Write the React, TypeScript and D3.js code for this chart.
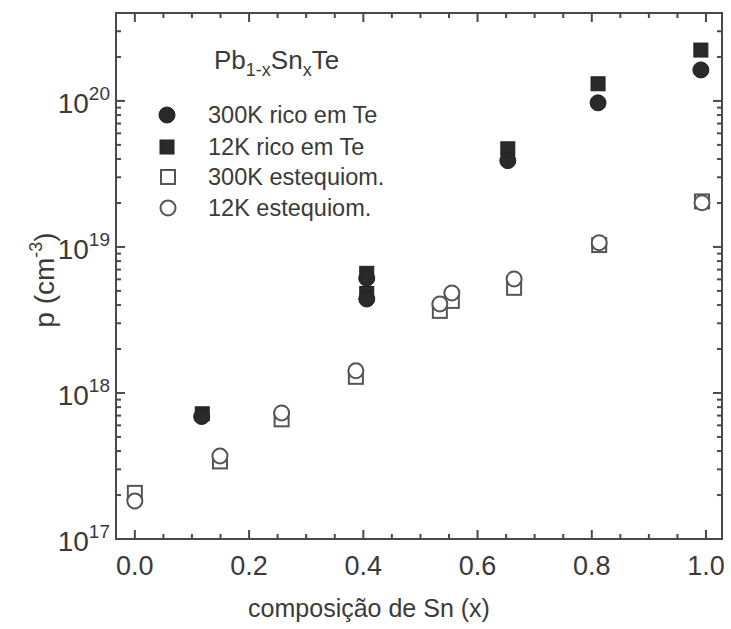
import React from "react";
import * as d3 from "d3";

const richX300 = [0.117, 0.406, 0.406, 0.653, 0.811, 0.991];
const richY300 = [6.9e17, 6.1e18, 4.4e18, 3.9e19, 9.7e19, 1.63e20];
const richX12 = [0.118, 0.406, 0.406, 0.653, 0.811, 0.991];
const richY12 = [7.2e17, 6.6e18, 4.8e18, 4.7e19, 1.31e20, 2.23e20];
const stoX300 = [0.0, 0.149, 0.257, 0.387, 0.534, 0.555, 0.664, 0.813, 0.993];
const stoY300 = [2.07e17, 3.4e17, 6.6e17, 1.29e18, 3.65e18, 4.27e18, 5.25e18, 1.03e19, 2.05e19];
const stoX12 = [0.0, 0.149, 0.257, 0.387, 0.534, 0.555, 0.664, 0.813, 0.993];
const stoY12 = [1.82e17, 3.7e17, 7.3e17, 1.42e18, 4.07e18, 4.84e18, 6.04e18, 1.07e19, 2.01e19];

const xTickLabels = ["0.0", "0.2", "0.4", "0.6", "0.8", "1.0"];
const yDecades = [17, 18, 19, 20];
const legendLabels = ["300K rico em Te", "12K rico em Te", "300K estequiom.", "12K estequiom."];

const W = 731, H = 629;
const L = 116, R = 722, T = 13, B = 539;
const AX = "#4a4a4a";
const TXT = "#3a3a3a";
const FONT = "'Liberation Sans', Arial, sans-serif";

export default function App() {
  const x = d3.scaleLinear().domain([-0.033, 1.028]).range([L, R]);
  const y = d3.scaleLog().domain([1e17, 4e20]).range([B, T]);

  const xMajor = d3.range(0, 1.0001, 0.2);
  const xMinor = d3.range(0, 1.0001, 0.05).filter((v) => Math.abs(v / 0.2 - Math.round(v / 0.2)) > 1e-6);
  const yMajor = yDecades.map((e) => Math.pow(10, e));
  const yMinor: number[] = [];
  for (let e = 17; e <= 20; e++) {
    for (let m = 2; m <= 9; m++) {
      const v = m * Math.pow(10, e);
      if (v <= 4e20) yMinor.push(v);
    }
  }
  const maj = 9, min = 5;
  const sq = 14, cr = 7.5;

  const rich300 = richX300.map((v, i) => [v, richY300[i]]);
  const rich12 = richX12.map((v, i) => [v, richY12[i]]);
  const sto300 = stoX300.map((v, i) => [v, stoY300[i]]);
  const sto12 = stoX12.map((v, i) => [v, stoY12[i]]);

  const legY = [115, 147, 177, 208];

  return (
    <svg width={W} height={H} style={{ position: "absolute", left: 0, top: 0, background: "#fff" }} fontFamily={FONT}>
      <rect x={0} y={0} width={W} height={H} fill="#fff" />
      {/* ticks */}
      <g stroke={AX} strokeWidth={2}>
        {xMajor.map((v, i) => (
          <g key={"xM" + i}>
            <line x1={x(v)} x2={x(v)} y1={B} y2={B - maj} />
            <line x1={x(v)} x2={x(v)} y1={T} y2={T + maj} />
          </g>
        ))}
        {xMinor.map((v, i) => (
          <g key={"xm" + i}>
            <line x1={x(v)} x2={x(v)} y1={B} y2={B - min} />
            <line x1={x(v)} x2={x(v)} y1={T} y2={T + min} />
          </g>
        ))}
        {yMajor.map((v, i) => (
          <g key={"yM" + i}>
            <line x1={L} x2={L + maj} y1={y(v)} y2={y(v)} />
            <line x1={R} x2={R - maj} y1={y(v)} y2={y(v)} />
          </g>
        ))}
        {yMinor.map((v, i) => (
          <g key={"ym" + i}>
            <line x1={L} x2={L + min} y1={y(v)} y2={y(v)} />
            <line x1={R} x2={R - min} y1={y(v)} y2={y(v)} />
          </g>
        ))}
      </g>
      <rect x={L} y={T} width={R - L} height={B - T} fill="none" stroke={AX} strokeWidth={2} />

      {/* x tick labels */}
      {xMajor.map((v, i) => (
        <text key={"xl" + i} x={x(v)} y={B + 36} textAnchor="middle" fontSize={27} fill={TXT}>
          {xTickLabels[i]}
        </text>
      ))}
      {/* y tick labels */}
      {yDecades.map((e, i) => (
        <text key={"yl" + i} x={L - 6} y={y(yMajor[i]) + 12} textAnchor="end" fontSize={28} fill={TXT}>
          10<tspan fontSize={19} dy={-13}>{e}</tspan>
        </text>
      ))}

      {/* axis titles */}
      <text x={(L + R) / 2 - 50} y={617} textAnchor="middle" fontSize={25} fill={TXT}>
        composição de Sn (x)
      </text>
      <text transform={`translate(54,${(T + B) / 2 + 4}) rotate(-90)`} textAnchor="middle" fontSize={28} fill={TXT}>
        p (cm<tspan fontSize={18} dy={-12}>-3</tspan><tspan dy={12}>)</tspan>
      </text>

      {/* data: open squares then open circles */}
      <g>
        {sto300.map((d, i) => (
          <rect key={"s3" + i} x={x(d[0]) - sq / 2} y={y(d[1]) - sq / 2} width={sq} height={sq} fill="#fff" stroke="#555" strokeWidth={2} />
        ))}
        {sto12.map((d, i) => (
          <circle key={"s1" + i} cx={x(d[0])} cy={y(d[1])} r={cr} fill="#fff" stroke="#555" strokeWidth={2} />
        ))}
        {rich12.map((d, i) => (
          <rect key={"r1" + i} x={x(d[0]) - sq / 2} y={y(d[1]) - sq / 2} width={sq} height={sq} fill="#2a2a2a" stroke="#222" strokeWidth={1} />
        ))}
        {rich300.map((d, i) => (
          <circle key={"r3" + i} cx={x(d[0])} cy={y(d[1])} r={cr + 0.5} fill="#2a2a2a" stroke="#222" strokeWidth={1} />
        ))}
      </g>

      {/* legend */}
      <text x={214} y={69} fontSize={26} fill={TXT}>
        Pb<tspan fontSize={18} dy={7}>1-x</tspan>
        <tspan dy={-7}>Sn</tspan>
        <tspan fontSize={18} dy={7}>x</tspan>
        <tspan dy={-7}>Te</tspan>
      </text>
      <circle cx={167} cy={legY[0]} r={cr + 0.5} fill="#2a2a2a" stroke="#222" />
      <rect x={167 - sq / 2} y={legY[1] - sq / 2} width={sq} height={sq} fill="#2a2a2a" stroke="#222" />
      <rect x={168 - sq / 2} y={legY[2] - sq / 2} width={sq} height={sq} fill="#fff" stroke="#555" strokeWidth={2} />
      <circle cx={168} cy={legY[3]} r={cr} fill="#fff" stroke="#555" strokeWidth={2} />
      {legendLabels.map((t, i) => (
        <text key={"lg" + i} x={208} y={legY[i] + 8} fontSize={23.5} fill={TXT}>
          {t}
        </text>
      ))}
    </svg>
  );
}
